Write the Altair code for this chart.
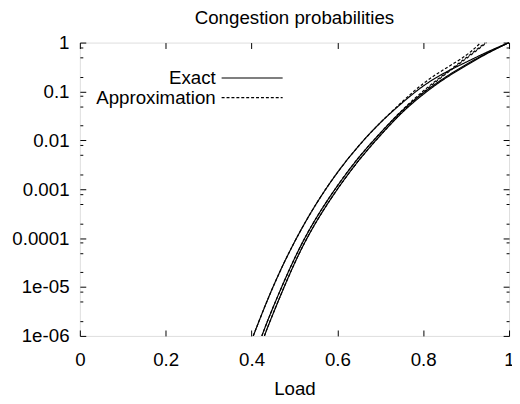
import altair as alt
import pandas as pd

# ---- data ----
load_exact_1 = [0.404, 0.45, 0.50, 0.55, 0.60, 0.65, 0.70, 0.75, 0.80, 0.85, 0.90, 0.95, 1.00]
prob_exact_1 = [1e-6, 1.0e-5, 8.3e-5, 4.9e-4, 2.19e-3, 7.76e-3, 0.0229, 0.0575, 0.129, 0.240, 0.398, 0.646, 1.0]

load_exact_2 = [0.424, 0.45, 0.50, 0.55, 0.60, 0.65, 0.70, 0.75, 0.80, 0.85, 0.90, 0.95, 1.00]
prob_exact_2 = [1e-6, 3.8e-6, 3.8e-5, 2.51e-4, 1.17e-3, 4.47e-3, 0.0141, 0.0398, 0.0933, 0.191, 0.355, 0.617, 1.0]

load_exact_3 = [0.43, 0.45, 0.50, 0.55, 0.60, 0.65, 0.70, 0.75, 0.80, 0.85, 0.90, 0.95, 1.00]
prob_exact_3 = [1e-6, 2.82e-6, 3.02e-5, 2.09e-4, 1.0e-3, 3.89e-3, 0.0126, 0.0363, 0.0871, 0.182, 0.339, 0.603, 1.0]

load_approx_1 = [0.404, 0.45, 0.50, 0.55, 0.60, 0.65, 0.70, 0.75, 0.80, 0.85, 0.90, 0.934]
prob_approx_1 = [1e-6, 1.0e-5, 8.3e-5, 4.9e-4, 2.19e-3, 7.76e-3, 0.0229, 0.0603, 0.145, 0.288, 0.550, 1.0]

load_approx_2 = [0.424, 0.45, 0.50, 0.55, 0.60, 0.65, 0.70, 0.75, 0.80, 0.85, 0.90, 0.945]
prob_approx_2 = [1e-6, 3.8e-6, 3.8e-5, 2.51e-4, 1.17e-3, 4.47e-3, 0.0141, 0.0407, 0.102, 0.229, 0.490, 1.0]

load_approx_3 = [0.43, 0.45, 0.50, 0.55, 0.60, 0.65, 0.70, 0.75, 0.80, 0.85, 0.90, 0.948]
prob_approx_3 = [1e-6, 2.82e-6, 3.02e-5, 2.09e-4, 1.0e-3, 3.89e-3, 0.0126, 0.0372, 0.0955, 0.219, 0.468, 1.0]

kinds = ["Exact", "Approximation"]
x_tick_values = [0, 0.2, 0.4, 0.6, 0.8, 1.0]
x_tick_labels = ["0", "0.2", "0.4", "0.6", "0.8", "1"]
y_tick_values = [1e-6, 1e-5, 1e-4, 1e-3, 1e-2, 1e-1, 1.0]
y_tick_labels = ["1e-06", "1e-05", "0.0001", "0.001", "0.01", "0.1", "1"]
y_minor_multipliers = [2, 5, 8]

series = [
    ("e1", "Exact", load_exact_1, prob_exact_1),
    ("e2", "Exact", load_exact_2, prob_exact_2),
    ("e3", "Exact", load_exact_3, prob_exact_3),
    ("a1", "Approximation", load_approx_1, prob_approx_1),
    ("a2", "Approximation", load_approx_2, prob_approx_2),
    ("a3", "Approximation", load_approx_3, prob_approx_3),
]
rows = []
for name, kind, xs, ys in series:
    for x, y in zip(xs, ys):
        rows.append({"load": x, "p": y, "kind": kind, "curve": name})
df = pd.DataFrame(rows)
legend_df = pd.DataFrame({"kind": kinds})

y_minor_values = [m * v for v in y_tick_values[:-1] for m in y_minor_multipliers]

FONT = "Liberation Sans"
FS = 19

x_scale = alt.Scale(domain=[0, 1], nice=False, zero=False)
y_scale = alt.Scale(type="log", domain=[1e-6, 1], nice=False)
dash_scale = alt.Scale(domain=kinds, range=[[1, 0], [3, 2]])
legend_row_scale = alt.Scale(type="point", domain=kinds, range=[36, 56], padding=0)

x_label_expr = str(x_tick_labels) + "[round(datum.value*5)]"
y_label_expr = str(y_tick_labels) + "[round(log(datum.value)/LN10)+6]"

lines = alt.Chart(df).mark_line(strokeWidth=1.2, color="black", clip=True, interpolate="natural").encode(
    x=alt.X("load:Q", scale=x_scale, axis=alt.Axis(
        values=x_tick_values, labelExpr=x_label_expr, ticks=False, tickSize=0, domain=False,
        grid=False, title="Load", labelPadding=15, titlePadding=11, labelFontSize=FS,
        titleFontSize=FS, titleFontWeight="normal", labelFont=FONT, titleFont=FONT,
        labelColor="black", titleColor="black", labelFlush=False, labelOverlap=False)),
    y=alt.Y("p:Q", scale=y_scale, axis=alt.Axis(
        values=y_tick_values, labelExpr=y_label_expr, ticks=False, tickSize=0, domain=False,
        grid=False, title=None, labelPadding=11, labelFontSize=FS, labelFont=FONT,
        labelColor="black", labelFlush=False, labelOverlap=False)),
    strokeDash=alt.StrokeDash("kind:N", scale=dash_scale, legend=None),
    detail="curve:N",
)

# key (labels on the left, line samples on the right, as in the reference)
key_text = alt.Chart(legend_df).mark_text(align="right", baseline="middle", font=FONT,
                                          fontSize=FS, color="black").encode(
    x=alt.value(138),
    y=alt.Y("kind:N", scale=legend_row_scale, axis=None),
    text="kind:N",
)
key_line = alt.Chart(legend_df).mark_rule(strokeWidth=1.2, color="black").encode(
    x=alt.value(144),
    x2=alt.value(206),
    y=alt.Y("kind:N", scale=legend_row_scale, axis=None),
    strokeDash=alt.StrokeDash("kind:N", scale=dash_scale, legend=None),
)


def tick_axis(orient, values, size):
    return alt.Axis(orient=orient, values=values, offset=-size, tickSize=size, ticks=True,
                    labels=False, domain=False, grid=False, title=None, tickColor="black",
                    tickWidth=1)


def tick_layer(x_axis, y_axis):
    return alt.Chart(df).mark_point(opacity=0).encode(
        x=alt.X("load:Q", scale=x_scale, axis=x_axis),
        y=alt.Y("p:Q", scale=y_scale, axis=y_axis),
    )


layers = [
    lines,
    tick_layer(tick_axis("bottom", x_tick_values, 6), tick_axis("left", y_tick_values, 6)),
    tick_layer(tick_axis("top", x_tick_values, 6), tick_axis("right", y_tick_values, 6)),
    tick_layer(None, tick_axis("left", y_minor_values, 3)),
    tick_layer(None, tick_axis("right", y_minor_values, 3)),
    key_text,
    key_line,
]

chart = alt.layer(*layers).resolve_scale(y="independent").resolve_axis(
    x="independent", y="independent").properties(
    width=436,
    height=298,
    autosize=alt.AutoSizeParams(type="none"),
    padding={"left": 73, "top": 32, "right": 3, "bottom": 64},
    title=alt.TitleParams("Congestion probabilities", font=FONT, fontSize=FS, fontWeight="normal",
                          color="black", anchor="middle", offset=6),
).configure_view(stroke="black", strokeWidth=1.5).configure(background="white")

chart.save("out.html", embed_options={"renderer": "svg", "actions": False})
